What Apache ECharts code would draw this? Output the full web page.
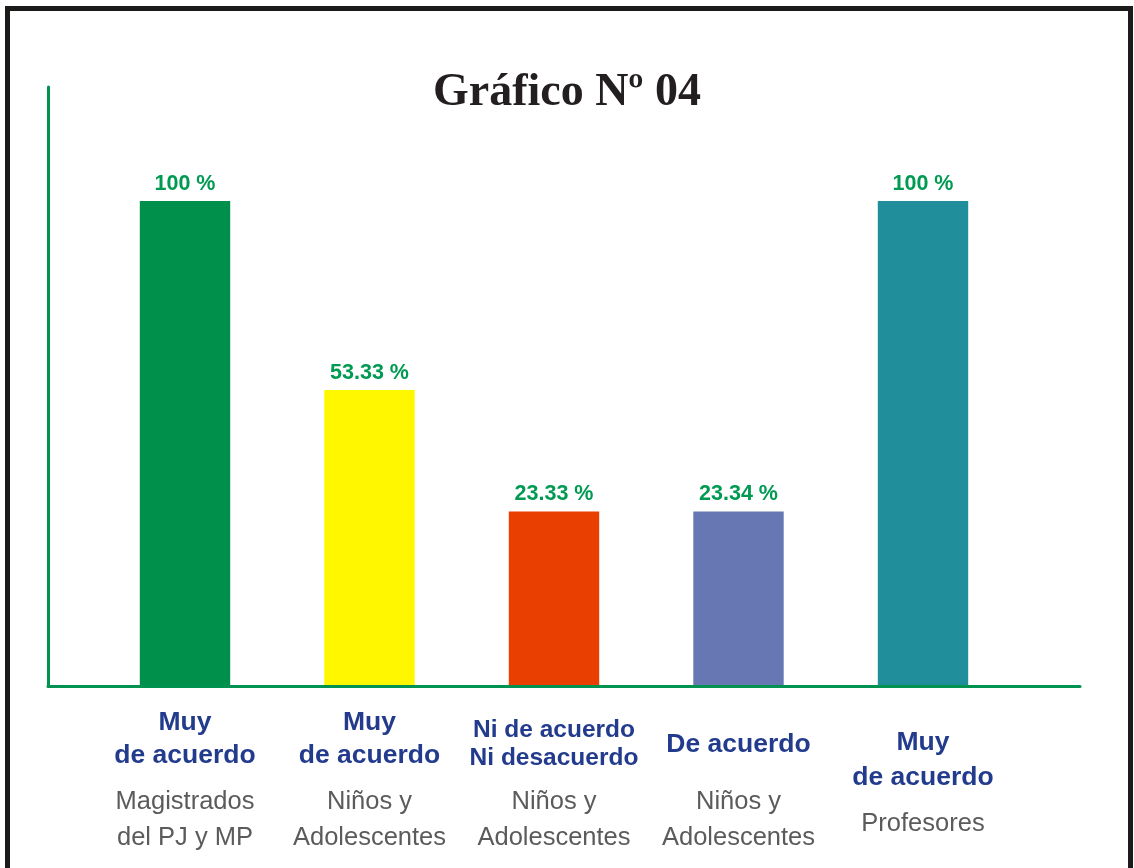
<!DOCTYPE html>
<html>
<head>
<meta charset="utf-8">
<title>Gráfico Nº 04</title>
<script src="https://cdn.jsdelivr.net/npm/echarts@6/dist/echarts.min.js"></script>
<style>
  html, body { margin: 0; padding: 0; background: #fff; overflow: hidden; }
  #marco {
    position: absolute; left: 5px; top: 6px;
    width: 1118px; height: 900px;
    border: 5px solid #1c1b1a;
  }
  #grafico { position: absolute; left: 0; top: 0; width: 1134px; height: 868px; }
</style>
</head>
<body>
<div id="marco"></div>
<div id="grafico"></div>
<script>
// datos del grafico
const respuestas = ['Muy\nde acuerdo', 'Muy\nde acuerdo', 'Ni de acuerdo\nNi desacuerdo', 'De acuerdo', 'Muy\nde acuerdo']
const grupos = ['Magistrados\ndel PJ y MP', 'Niños y\nAdolescentes', 'Niños y\nAdolescentes', 'Niños y\nAdolescentes', 'Profesores']
const porcentajes = [100, 53.33, 23.33, 23.34, 100]

const colores = ['#00904b', '#fff700', '#e93f00', '#6777b4', '#218e9b']
const verde = '#009a52'

// espacios verticales de cada etiqueta (arriba, alto de linea azul, entre bloques)
const espArriba = [0, 0, 10, 22, 19]
const altoAzul = [33, 33, 28, 33, 35]
const espMedio = [12, 12, 12, 23, 11]
const tamAzul = [26.5, 26.5, 24.5, 26.5, 26.5]

const categorias = respuestas.map((r, i) => r.replace('\n', ' ') + ' | ' + grupos[i].replace('\n', ' '))

const rich = {
  g: {
    fontFamily: '"Liberation Sans", Arial, sans-serif',
    fontSize: 25.5,
    color: '#5b5b5b',
    lineHeight: 36
  }
}
respuestas.forEach((r, i) => {
  rich['t' + i] = { fontSize: 1, lineHeight: espArriba[i] }
  rich['m' + i] = { fontSize: 1, lineHeight: espMedio[i] }
  rich['b' + i] = {
    fontFamily: '"Liberation Sans", Arial, sans-serif',
    fontWeight: 'bold',
    fontSize: tamAzul[i],
    color: '#233b8d',
    lineHeight: altoAzul[i]
  }
})

function etiqueta (value, index) {
  let partes = []
  if (espArriba[index] > 0) partes.push('{t' + index + '| }')
  respuestas[index].split('\n').forEach(l => partes.push('{b' + index + '|' + l + '}'))
  partes.push('{m' + index + '| }')
  grupos[index].split('\n').forEach(l => partes.push('{g|' + l + '}'))
  return partes.join('\n')
}

const yMin = -19.5

const chart = echarts.init(document.getElementById('grafico'))
chart.setOption({
  backgroundColor: 'transparent',
  animation: false,
  title: {
    text: 'Gráfico Nº 04',
    left: 'center',
    top: 65,
    textStyle: {
      fontFamily: '"Liberation Serif", "DejaVu Serif", serif',
      fontWeight: 'bold',
      fontSize: 46,
      color: '#231f20'
    }
  },
  grid: [
    // solo las lineas de los ejes
    { left: 48, top: 87, width: 1032, height: 599 },
    // barras
    { left: 92.75, top: 201, width: 922.5, height: 484 }
  ],
  xAxis: [
    {
      gridIndex: 0, type: 'value', min: 0, max: 1,
      axisLine: { show: true, lineStyle: { color: '#009250', width: 3 } },
      axisTick: { show: false }, axisLabel: { show: false }, splitLine: { show: false }
    },
    {
      gridIndex: 1, type: 'category', data: categorias,
      axisLine: { show: false }, axisTick: { show: false }, splitLine: { show: false },
      axisLabel: {
        interval: 0,
        margin: 21,
        verticalAlign: 'top',
        align: 'center',
        formatter: etiqueta,
        rich: rich
      }
    }
  ],
  yAxis: [
    {
      gridIndex: 0, type: 'value', min: 0, max: 1,
      axisLine: { show: true, lineStyle: { color: '#009250', width: 3 } },
      axisTick: { show: false }, axisLabel: { show: false }, splitLine: { show: false }
    },
    {
      gridIndex: 1, type: 'value', min: yMin, max: 100, show: false,
      splitLine: { show: false }
    }
  ],
  series: [
    {
      type: 'custom',
      xAxisIndex: 1,
      yAxisIndex: 1,
      data: porcentajes.map((v, i) => [i, v]),
      clip: false,
      renderItem: function (params, api) {
        const idx = api.value(0)
        const v = api.value(1)
        const tope = api.coord([idx, v])
        const base = api.coord([idx, yMin])
        const ancho = api.size([1, 0])[0] * 0.49
        return {
          type: 'group',
          children: [
            {
              type: 'rect',
              shape: { x: tope[0] - ancho / 2, y: tope[1], width: ancho, height: base[1] - tope[1] },
              style: { fill: colores[params.dataIndex] }
            },
            {
              type: 'text',
              style: {
                text: v + ' %',
                x: tope[0],
                y: tope[1] - 17,
                align: 'center',
                verticalAlign: 'middle',
                fill: verde,
                font: 'bold 21.5px "Liberation Sans", Arial, sans-serif'
              }
            }
          ]
        }
      }
    }
  ]
})
</script>
</body>
</html>
